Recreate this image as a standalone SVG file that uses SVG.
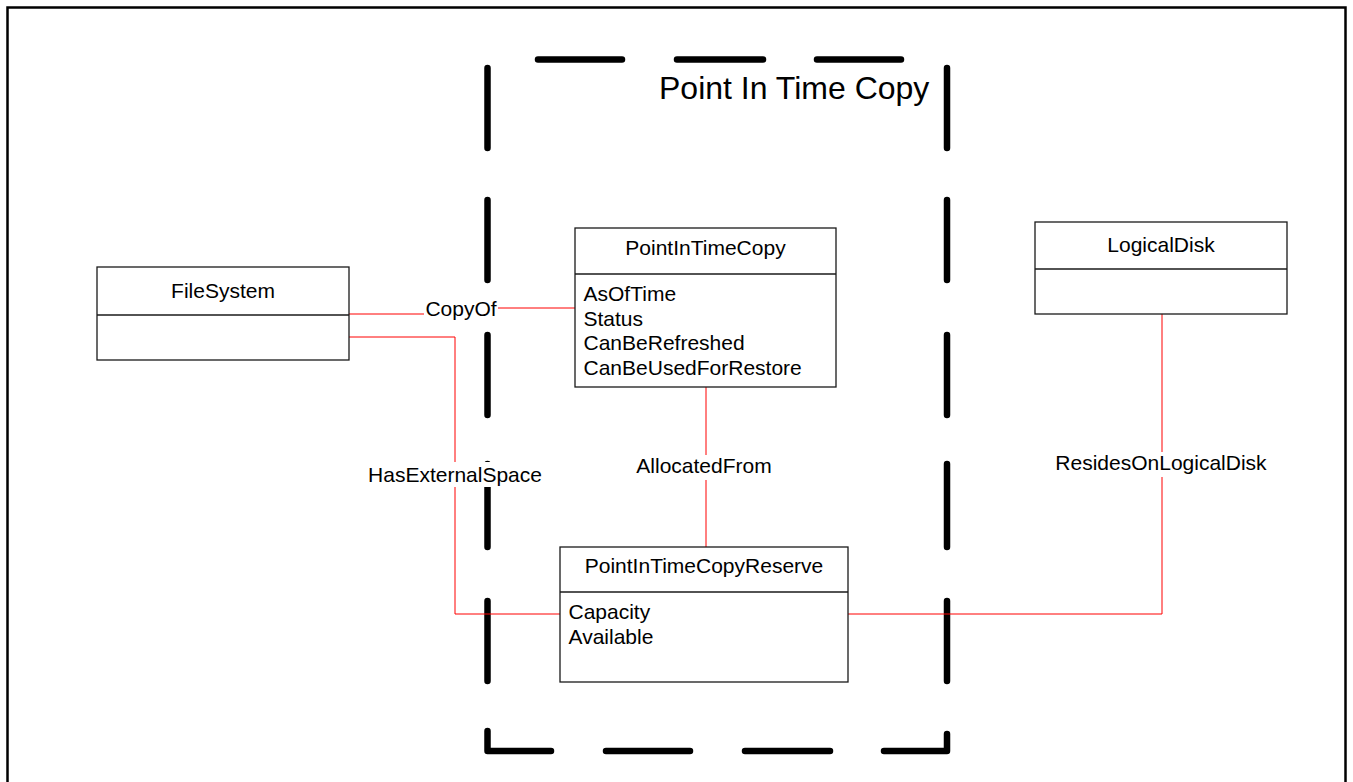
<svg xmlns="http://www.w3.org/2000/svg" width="1353" height="782" viewBox="0 0 1353 782">
<style>
  .frame{fill:none;stroke:#000;stroke-width:2.5}
  .dash{fill:none;stroke:#000;stroke-width:6.5;stroke-linecap:round;stroke-linejoin:round}
  .box{fill:#fff;stroke:#1a1a1a;stroke-width:1.3}
  .div{stroke:#1a1a1a;stroke-width:1.3}
  .conn{fill:none;stroke:#ff0000;stroke-width:1}
  text{font-family:"Liberation Sans",Arial,sans-serif;fill:#000}
  .t{font-size:21px}
  .title{font-size:21px;text-anchor:middle}
  .lbl{font-size:21px;text-anchor:middle}
  .bg{fill:#fff}
</style>
<rect x="0" y="0" width="1353" height="782" fill="#fff"/>
<rect class="frame" x="7.5" y="7.5" width="1338" height="800"/>

<g id="container">
  <path class="dash" d="M538,59.5H622M677,59.5H763M817,59.5H901"/>
  <path class="dash" d="M487.5,68V148M487.5,200V280M487.5,335V415M487.5,464V547M487.5,601V681"/>
  <path class="dash" d="M487.5,731V751H551"/>
  <path class="dash" d="M606,751H690M745,751H830"/>
  <path class="dash" d="M884,751H947V734"/>
  <path class="dash" d="M947,68V148M947,200V280M947,335V415M947,464V547M947,601V681"/>
  <text x="659" y="98.5" style="font-size:32px">Point In Time Copy</text>
</g>

<g id="connectors">
  <path class="conn" d="M349,314H461V308H575"/>
  <path class="conn" d="M349,337H455V614H560"/>
  <path class="conn" d="M706,387V547"/>
  <path class="conn" d="M1162,314V614H848"/>
  <rect class="bg" x="424" y="298" width="74" height="24"/>
  <text class="lbl" x="461" y="316">CopyOf</text>
  <rect class="bg" x="365" y="462" width="179" height="25"/>
  <text class="lbl" x="455" y="482">HasExternalSpace</text>
  <rect class="bg" x="633" y="455" width="143" height="25"/>
  <text class="lbl" x="704" y="473">AllocatedFrom</text>
  <rect class="bg" x="1051" y="452" width="221" height="25"/>
  <text class="lbl" x="1161" y="470">ResidesOnLogicalDisk</text>
</g>

<g id="FileSystem">
  <rect class="box" x="97" y="267" width="252" height="93"/>
  <line class="div" x1="97" y1="315" x2="349" y2="315"/>
  <text class="title" x="223" y="298">FileSystem</text>
</g>

<g id="PointInTimeCopy">
  <rect class="box" x="575" y="228" width="261" height="159"/>
  <line class="div" x1="575" y1="274" x2="836" y2="274"/>
  <text class="title" x="705.5" y="255">PointInTimeCopy</text>
  <text class="t" x="583.5" y="301">AsOfTime</text>
  <text class="t" x="583.5" y="325.5">Status</text>
  <text class="t" x="583.5" y="350">CanBeRefreshed</text>
  <text class="t" x="583.5" y="374.5">CanBeUsedForRestore</text>
</g>

<g id="PointInTimeCopyReserve">
  <rect class="box" x="560" y="547" width="288" height="135"/>
  <line class="div" x1="560" y1="592" x2="848" y2="592"/>
  <text class="title" x="704" y="573">PointInTimeCopyReserve</text>
  <text class="t" x="568.5" y="619">Capacity</text>
  <text class="t" x="568.5" y="643.5">Available</text>
</g>

<g id="LogicalDisk">
  <rect class="box" x="1035" y="222" width="252" height="92"/>
  <line class="div" x1="1035" y1="269" x2="1287" y2="269"/>
  <text class="title" x="1161" y="252">LogicalDisk</text>
</g>
</svg>
